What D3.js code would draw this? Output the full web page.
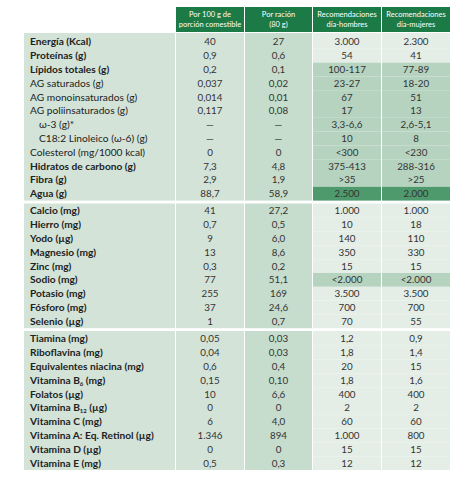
<!DOCTYPE html>
<html><head><meta charset="utf-8">
<script src="https://cdn.jsdelivr.net/npm/d3@7"></script>
<style>body{margin:0;background:#fff}text{font-family:Lato,"Open Sans",sans-serif}</style>
</head><body>
<svg id="t" width="474" height="479"></svg>
<script>
// column headers (two lines each)
const headers = [["Por 100 g de","porción comestible"],["Por ración","(80 g)"],["Recomendaciones","día-hombres"],["Recomendaciones","día-mujeres"]];

// [label, bold, indent, per100, porRacion, hombres, mujeres, shade]
const grupo1 = [
  ["Energía (Kcal)",1,0,"40","27","3.000","2.300","p"],
  ["Proteínas (g)",1,0,"0,9","0,6","54","41","p"],
  ["Lípidos totales (g)",1,0,"0,2","0,1","100-117","77-89","m"],
  ["AG saturados (g)",0,0,"0,037","0,02","23-27","18-20","m"],
  ["AG monoinsaturados (g)",0,0,"0,014","0,01","67","51","m"],
  ["AG poliinsaturados (g)",0,0,"0,117","0,08","17","13","m"],
  ["ω-3 (g)*",0,1,"—","—","3,3-6,6","2,6-5,1","m"],
  ["C18:2 Linoleico (ω-6) (g)",0,1,"—","—","10","8","m"],
  ["Colesterol (mg/1000 kcal)",0,0,"0","0","<300","<230","m"],
  ["Hidratos de carbono (g)",1,0,"7,3","4,8","375-413","288-316","m"],
  ["Fibra (g)",1,0,"2,9","1,9",">35",">25","m"],
  ["Agua (g)",1,0,"88,7","58,9","2.500","2.000","d"]
];
const grupo2 = [
  ["Calcio (mg)",1,0,"41","27,2","1.000","1.000","p"],
  ["Hierro (mg)",1,0,"0,7","0,5","10","18","p"],
  ["Yodo (µg)",1,0,"9","6,0","140","110","p"],
  ["Magnesio (mg)",1,0,"13","8,6","350","330","p"],
  ["Zinc (mg)",1,0,"0,3","0,2","15","15","p"],
  ["Sodio (mg)",1,0,"77","51,1","<2.000","<2.000","m"],
  ["Potasio (mg)",1,0,"255","169","3.500","3.500","p"],
  ["Fósforo (mg)",1,0,"37","24,6","700","700","p"],
  ["Selenio (µg)",1,0,"1","0,7","70","55","p"]
];
const grupo3 = [
  ["Tiamina (mg)",1,0,"0,05","0,03","1,2","0,9","p"],
  ["Riboflavina (mg)",1,0,"0,04","0,03","1,8","1,4","p"],
  ["Equivalentes niacina (mg)",1,0,"0,6","0,4","20","15","p"],
  ["Vitamina B|6| (mg)",1,0,"0,15","0,10","1,8","1,6","p"],
  ["Folatos (µg)",1,0,"10","6,6","400","400","p"],
  ["Vitamina B|12| (µg)",1,0,"0","0","2","2","p"],
  ["Vitamina C (mg)",1,0,"6","4,0","60","60","p"],
  ["Vitamina A: Eq. Retinol (µg)",1,0,"1.346","894","1.000","800","p"],
  ["Vitamina D (µg)",1,0,"0","0","15","15","p"],
  ["Vitamina E (mg)",1,0,"0,5","0,3","12","12","p"]
];

const svg = d3.select("#t");
const cols = [[24,175],[176,244],[245,312],[313,381],[382,450]];
const rowH = 13.8;
const groups = [{rows:grupo1, top:35, bgTop:33},{rows:grupo2, top:204, bgTop:203.5},{rows:grupo3, top:332, bgTop:331}];
const shade = {p:"#e4eee7", m:"#b6d3c0", d:"#4f9a6c"};
const colBg = ["#d3e3d8","#d3e3d8","#c6dccc"];

// header
headers.forEach((h,i)=>{
  const [x0,x1] = cols[i+1];
  svg.append("rect").attr("x",x0).attr("y",7).attr("width",x1-x0).attr("height",25).attr("fill","#1b7a46");
  h.forEach((s,j)=>svg.append("text").attr("x",(x0+x1)/2).attr("y",17+j*10).attr("text-anchor","middle")
    .attr("font-size",7.5).attr("fill","#fff").text(s));
});

groups.forEach(g=>{
  const y = d3.scaleLinear().domain([0,1]).range([g.top, g.top+rowH]);
  const bottom = y(g.rows.length);
  // background columns
  [0,1,2].forEach(c=>svg.append("rect").attr("x",cols[c][0]).attr("y",g.bgTop)
    .attr("width",cols[c][1]-cols[c][0]).attr("height",bottom-g.bgTop).attr("fill",colBg[c]));
  g.rows.forEach((r,i)=>{
    [3,4].forEach(c=>svg.append("rect").attr("x",cols[c][0]).attr("y",i===0?g.bgTop:y(i))
      .attr("width",cols[c][1]-cols[c][0]).attr("height",i===0?y(1)-g.bgTop:rowH).attr("fill",shade[r[7]]));
    const ty = y(i+0.5)+3.5;
    const t = svg.append("text").attr("x",30+r[2]*9).attr("y",ty).attr("font-size",10.2)
      .attr("font-weight",r[1]?"bold":"normal").attr("fill","#222");
    r[0].split("|").forEach((p,k)=>{
      const ts = t.append("tspan").text(p);
      if(k===1) ts.attr("font-size",6).attr("dy",2);
      if(k===2) ts.attr("dy",-2);
    });
    [3,4,5,6].forEach((k,j)=>{
      const [x0,x1] = cols[j+1];
      svg.append("text").attr("x",(x0+x1)/2).attr("y",ty).attr("text-anchor","middle")
        .attr("font-size",9.8).attr("fill","#333").text(r[k]);
    });
  });
});
</script>
</body></html>
